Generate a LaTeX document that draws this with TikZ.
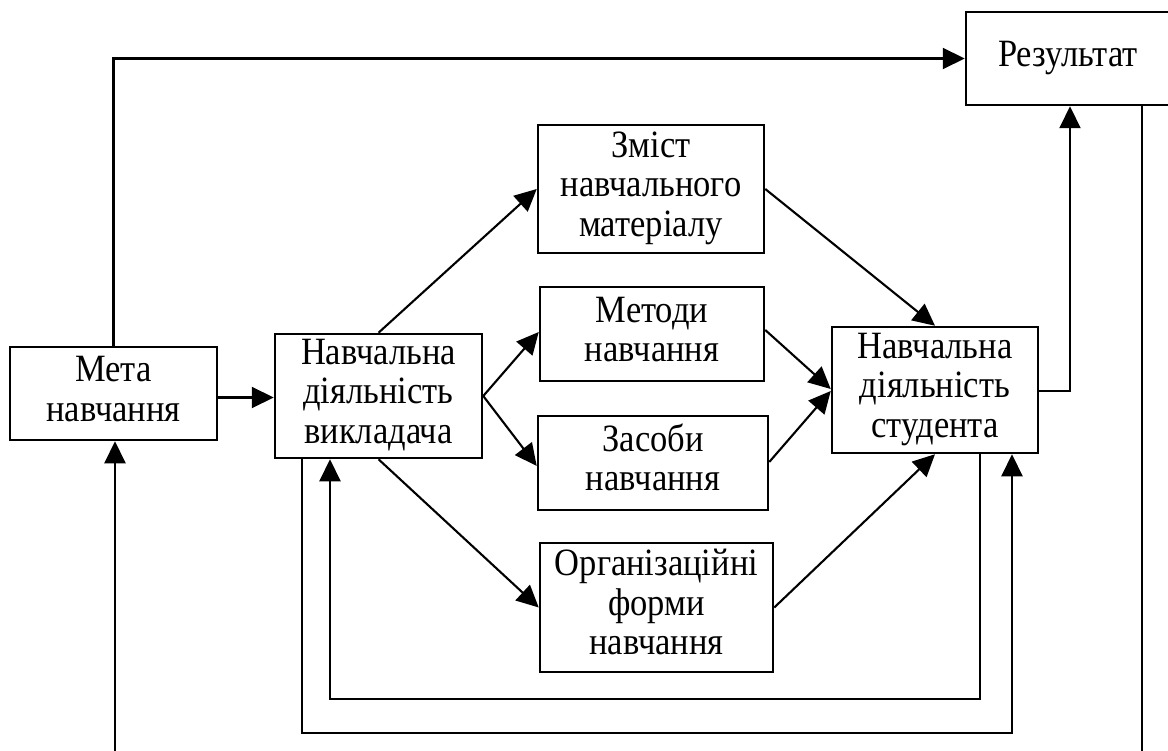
\documentclass[tikz,border=0pt]{standalone}
\usepackage{fontspec}
\usepackage{graphicx}
\setmainfont{Liberation Serif}
\usetikzlibrary{arrows.meta}
% centred lines of box text, set a little taller than wide
\newcommand{\boxtext}[1]{\scalebox{1}[1.12]{\begin{tabular}{@{}c@{}}#1\end{tabular}}}
\begin{document}
\begin{tikzpicture}[x=1pt,y=-1pt,
  box/.style={draw, line width=2.5pt, inner sep=0pt, align=center,
    font=\fontsize{34.5}{35.3}\selectfont},
  link/.style={line width=2.1pt},
  arr/.style={link, -{Triangle[length=22pt,width=21pt]}}]
\clip (0,0) rectangle (1168,751);

% boxes
\node[box, minimum width=207pt, minimum height=93pt]  (meta)   at (113.5,393.5) {\boxtext{Мета\\навчання}};
\node[box, minimum width=207pt, minimum height=124pt] (vykl)   at (378.5,396)   {\boxtext{Навчальна\\діяльність\\викладача}};
\node[box, minimum width=226pt, minimum height=128pt] (zmist)  at (651,189)     {\boxtext{Зміст\\навчального\\матеріалу}};
\node[box, minimum width=224pt, minimum height=94pt]  (metody) at (652,334)     {\boxtext{Методи\\навчання}};
\node[box, minimum width=230pt, minimum height=94pt]  (zasoby) at (653,463)     {\boxtext{Засоби\\навчання}};
\node[box, minimum width=233pt, minimum height=129pt] (org)    at (656.5,607.5) {\boxtext{Організаційні\\форми\\навчання}};
\node[box, minimum width=206pt, minimum height=126pt] (stud)   at (935,390)     {\boxtext{Навчальна\\діяльність\\студента}};
\node[box, minimum width=204pt, minimum height=93pt]  (rez)    at (1068,58.5)   {\raisebox{5pt}{\boxtext{Результат}}};

% loose ends and bends of the feedback lines
\coordinate (rb) at (1142,751);
\coordinate (mb) at (115,751);
\coordinate (o1) at (302,733);
\coordinate (o2) at (1012,733);
\coordinate (i1) at (980,699);
\coordinate (i2) at (330,699);

% connectors
\draw[arr] (meta.north) |- (rez.west);
\draw[arr] ([yshift=-4pt]meta.east) -- ([yshift=-4pt]meta.east -| vykl.west);
\draw[arr] (vykl.north) -- (zmist.west);
\draw[arr] (vykl.east) -- ([yshift=2pt]metody.west);
\draw[arr] (vykl.east) -- ([yshift=-3pt]zasoby.west);
\draw[arr] (vykl.south) -- (org.west);
\draw[arr] (zmist.east) -- (stud.north);
\draw[arr] ([yshift=4pt]metody.east) -- ([yshift=1pt]stud.west);
\draw[arr] ([yshift=1pt]zasoby.east) -- ([yshift=-1pt]stud.west);
\draw[arr] (org.east) -- (stud.south);
\draw[arr] ([yshift=-1pt]stud.east) -| ([xshift=2pt]rez.south);
\draw[link] (rez.south -| rb) -- (rb);
\draw[arr] (mb) -- (mb |- meta.south);
\draw[arr] (vykl.south -| o1) -- (o1) -- (o2) -- (o2 |- stud.south);
\draw[arr] (stud.south -| i1) -- (i1) -- (i2) -- (i2 |- vykl.south);
\end{tikzpicture}
\end{document}
